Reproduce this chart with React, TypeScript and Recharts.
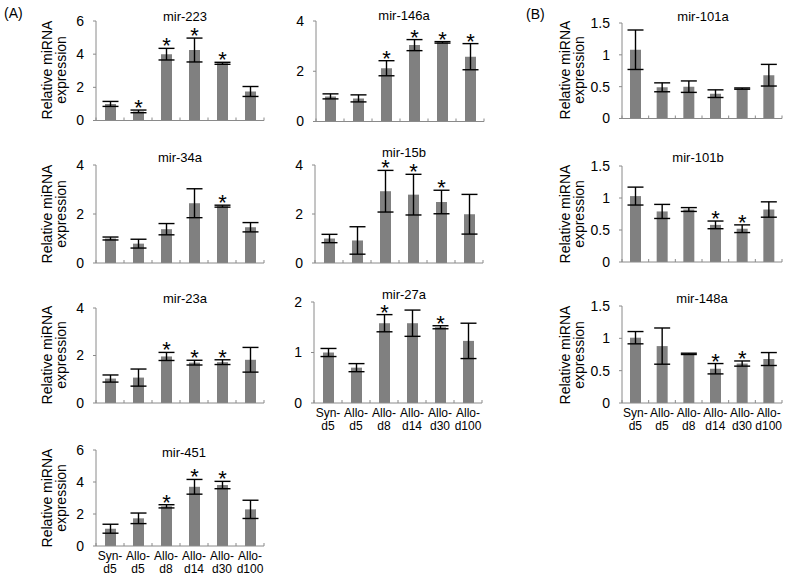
import { BarChart, Bar, XAxis, YAxis, ErrorBar, LabelList } from "recharts"

// group names, split in two lines under the axis
const TICK_TOP = ["Syn-", "Allo-", "Allo-", "Allo-", "Allo-", "Allo-"]
const TICK_BOTTOM = ["d5", "d5", "d8", "d14", "d30", "d100"]
const GROUPS = TICK_TOP.map((t, i) => t + TICK_BOTTOM[i])

// values (mean, +/- error, significance)
const mir223Values = [1.0, 0.55, 4.0, 4.25, 3.45, 1.75]
const mir223Errors = [0.15, 0.08, 0.35, 0.72, 0.06, 0.3]
const mir223Stars = ["", "*", "*", "*", "*", ""]

const mir146aValues = [1.0, 0.92, 2.12, 3.04, 3.15, 2.58]
const mir146aErrors = [0.1, 0.14, 0.3, 0.22, 0.03, 0.52]
const mir146aStars = ["", "", "*", "*", "*", "*"]

const mir101aValues = [1.08, 0.49, 0.5, 0.39, 0.47, 0.68]
const mir101aErrors = [0.31, 0.07, 0.09, 0.06, 0.01, 0.17]
const mir101aStars = ["", "", "", "", "", ""]

const mir34aValues = [1.0, 0.79, 1.38, 2.44, 2.32, 1.46]
const mir34aErrors = [0.06, 0.18, 0.23, 0.59, 0.04, 0.19]
const mir34aStars = ["", "", "", "", "*", ""]

const mir15bValues = [1.0, 0.92, 2.93, 2.79, 2.49, 1.99]
const mir15bErrors = [0.17, 0.56, 0.85, 0.83, 0.48, 0.81]
const mir15bStars = ["", "", "*", "*", "*", ""]

const mir101bValues = [1.03, 0.79, 0.82, 0.58, 0.52, 0.82]
const mir101bErrors = [0.14, 0.11, 0.03, 0.06, 0.06, 0.12]
const mir101bStars = ["", "", "", "*", "*", ""]

const mir23aValues = [1.03, 1.07, 1.96, 1.7, 1.72, 1.82]
const mir23aErrors = [0.15, 0.36, 0.17, 0.1, 0.1, 0.52]
const mir23aStars = ["", "", "*", "*", "*", ""]

const mir27aValues = [1.0, 0.7, 1.58, 1.58, 1.5, 1.23]
const mir27aErrors = [0.08, 0.08, 0.17, 0.26, 0.03, 0.35]
const mir27aStars = ["", "", "*", "", "*", ""]

const mir148aValues = [1.01, 0.88, 0.76, 0.53, 0.61, 0.68]
const mir148aErrors = [0.095, 0.28, 0.01, 0.08, 0.04, 0.1]
const mir148aStars = ["", "", "", "*", "*", ""]

const mir451Values = [1.08, 1.73, 2.48, 3.7, 3.81, 2.29]
const mir451Errors = [0.28, 0.33, 0.1, 0.46, 0.23, 0.57]
const mir451Stars = ["", "", "*", "*", "*", ""]

const TICKS_6 = [0, 2, 4, 6]
const TICKS_4 = [0, 2, 4]
const TICKS_2 = [0, 1, 2]
const TICKS_15 = [0, 0.5, 1, 1.5]

const FONT = "'Liberation Sans', Arial, sans-serif"
const AXIS = "#8a8a8a"
const BAR = "#808080"

type PanelDef = {
  title: string
  values: number[]
  errors: number[]
  stars: string[]
  ticks: number[]
  x0: number
  x1: number
  yTop: number
  yBottom: number
  titleX: number
  titleY: number
  xLabels: boolean
}

const PANELS: PanelDef[] = [
  { title: "mir-223", values: mir223Values, errors: mir223Errors, stars: mir223Stars, ticks: TICKS_6, x0: 96, x1: 264, yTop: 20.5, yBottom: 120, titleX: 185, titleY: 16, xLabels: false },
  { title: "mir-146a", values: mir146aValues, errors: mir146aErrors, stars: mir146aStars, ticks: TICKS_4, x0: 316, x1: 484, yTop: 20.5, yBottom: 121, titleX: 404, titleY: 15, xLabels: false },
  { title: "mir-101a", values: mir101aValues, errors: mir101aErrors, stars: mir101aStars, ticks: TICKS_15, x0: 622, x1: 782, yTop: 22.5, yBottom: 118, titleX: 703, titleY: 16, xLabels: false },
  { title: "mir-34a", values: mir34aValues, errors: mir34aErrors, stars: mir34aStars, ticks: TICKS_4, x0: 96, x1: 264, yTop: 165, yBottom: 263, titleX: 180, titleY: 157, xLabels: false },
  { title: "mir-15b", values: mir15bValues, errors: mir15bErrors, stars: mir15bStars, ticks: TICKS_4, x0: 315, x1: 483, yTop: 165, yBottom: 263, titleX: 404, titleY: 152, xLabels: false },
  { title: "mir-101b", values: mir101bValues, errors: mir101bErrors, stars: mir101bStars, ticks: TICKS_15, x0: 622, x1: 782, yTop: 166, yBottom: 262, titleX: 698, titleY: 157, xLabels: false },
  { title: "mir-23a", values: mir23aValues, errors: mir23aErrors, stars: mir23aStars, ticks: TICKS_4, x0: 96, x1: 264, yTop: 308, yBottom: 403, titleX: 185, titleY: 298, xLabels: false },
  { title: "mir-27a", values: mir27aValues, errors: mir27aErrors, stars: mir27aStars, ticks: TICKS_2, x0: 314, x1: 482, yTop: 302, yBottom: 403, titleX: 404, titleY: 294, xLabels: true },
  { title: "mir-148a", values: mir148aValues, errors: mir148aErrors, stars: mir148aStars, ticks: TICKS_15, x0: 622, x1: 782, yTop: 306, yBottom: 403, titleX: 702, titleY: 298, xLabels: true },
  { title: "mir-451", values: mir451Values, errors: mir451Errors, stars: mir451Stars, ticks: TICKS_6, x0: 96, x1: 264, yTop: 450, yBottom: 546, titleX: 184, titleY: 452, xLabels: true },
]

// y label centres: [x of line 1, x of line 2, y centre]
const Y_LABELS = [
  [47, 61, 70], [47, 61, 214], [47, 61, 355], [47, 61, 498],
  [565, 579, 70], [565, 579, 214], [565, 579, 355],
]

const TOP = 34
const AXIS_W = 40

function Panel({ p }: { p: PanelDef }) {
  const plotH = p.yBottom - p.yTop
  const xh = p.xLabels ? 34 : 8
  const width = AXIS_W + (p.x1 - p.x0) + 4
  const height = TOP + plotH + xh
  const yMax = p.ticks[p.ticks.length - 1]
  const step = (p.x1 - p.x0) / GROUPS.length
  const axisY = TOP + plotH
  const data = GROUPS.map((g, i) => ({ group: g, value: p.values[i], err: p.errors[i], star: p.stars[i] }))

  const renderTick = (props: any) => {
    const { x, index } = props
    return (
      <g>
        <line x1={x - step / 2} x2={x - step / 2} y1={axisY - 3} y2={axisY} stroke={AXIS} />
        {index === GROUPS.length - 1 && (
          <line x1={x + step / 2} x2={x + step / 2} y1={axisY - 3} y2={axisY} stroke={AXIS} />
        )}
        {p.xLabels && (
          <text x={x} y={axisY + 14} textAnchor="middle" fontSize={12} fontFamily={FONT} fill="#000">
            {TICK_TOP[index]}
          </text>
        )}
        {p.xLabels && (
          <text x={x} y={axisY + 27} textAnchor="middle" fontSize={12} fontFamily={FONT} fill="#000">
            {TICK_BOTTOM[index]}
          </text>
        )}
      </g>
    )
  }

  const renderStar = (props: any) => {
    const { x, y, width: w, value, index } = props
    if (!value) return null
    const errTop = y - (p.errors[index] * plotH) / yMax
    return (
      <text x={x + w / 2} y={errTop + 5} textAnchor="middle" fontSize={22} fontFamily={FONT} fill="#000">
        {value}
      </text>
    )
  }

  return (
    <div style={{ position: "absolute", left: p.x0 - AXIS_W, top: p.yTop - TOP }}>
      <BarChart width={width} height={height} data={data} margin={{ top: TOP, right: 4, bottom: 0, left: 0 }}>
        <XAxis dataKey="group" height={xh} interval={0} axisLine={{ stroke: AXIS }} tickLine={false} tick={renderTick} />
        <YAxis
          width={AXIS_W}
          domain={[0, yMax]}
          ticks={p.ticks}
          allowDataOverflow
          tickSize={3}
          tickMargin={9}
          axisLine={{ stroke: AXIS }}
          tickLine={{ stroke: AXIS }}
          tick={{ fontSize: 14, fill: "#000", fontFamily: FONT }}
        />
        <Bar dataKey="value" fill={BAR} barSize={11} isAnimationActive={false}>
          <ErrorBar dataKey="err" width={8} stroke="#000" strokeWidth={1.4} />
          <LabelList dataKey="star" content={renderStar} />
        </Bar>
      </BarChart>
    </div>
  )
}

export default function App() {
  return (
    <div style={{ position: "absolute", left: 0, top: 0, width: 787, height: 577, background: "#fff", fontFamily: FONT }}>
      {PANELS.map((p) => (
        <Panel key={p.title} p={p} />
      ))}
      <svg width={787} height={577} style={{ position: "absolute", left: 0, top: 0, pointerEvents: "none" }}>
        <text x={4} y={18} fontSize={14} fontFamily={FONT}>(A)</text>
        <text x={526} y={19} fontSize={14} fontFamily={FONT}>(B)</text>
        {PANELS.map((p) => (
          <text key={p.title} x={p.titleX} y={p.titleY} textAnchor="middle" dominantBaseline="central" fontSize={13} fontFamily={FONT}>
            {p.title}
          </text>
        ))}
        {Y_LABELS.map(([a, b, cy], i) => (
          <g key={i} fontSize={14} fontFamily={FONT} textAnchor="middle" dominantBaseline="central">
            <text x={a} y={cy} transform={`rotate(-90 ${a} ${cy})`}>Relative miRNA</text>
            <text x={b} y={cy} transform={`rotate(-90 ${b} ${cy})`}>expression</text>
          </g>
        ))}
      </svg>
    </div>
  )
}
